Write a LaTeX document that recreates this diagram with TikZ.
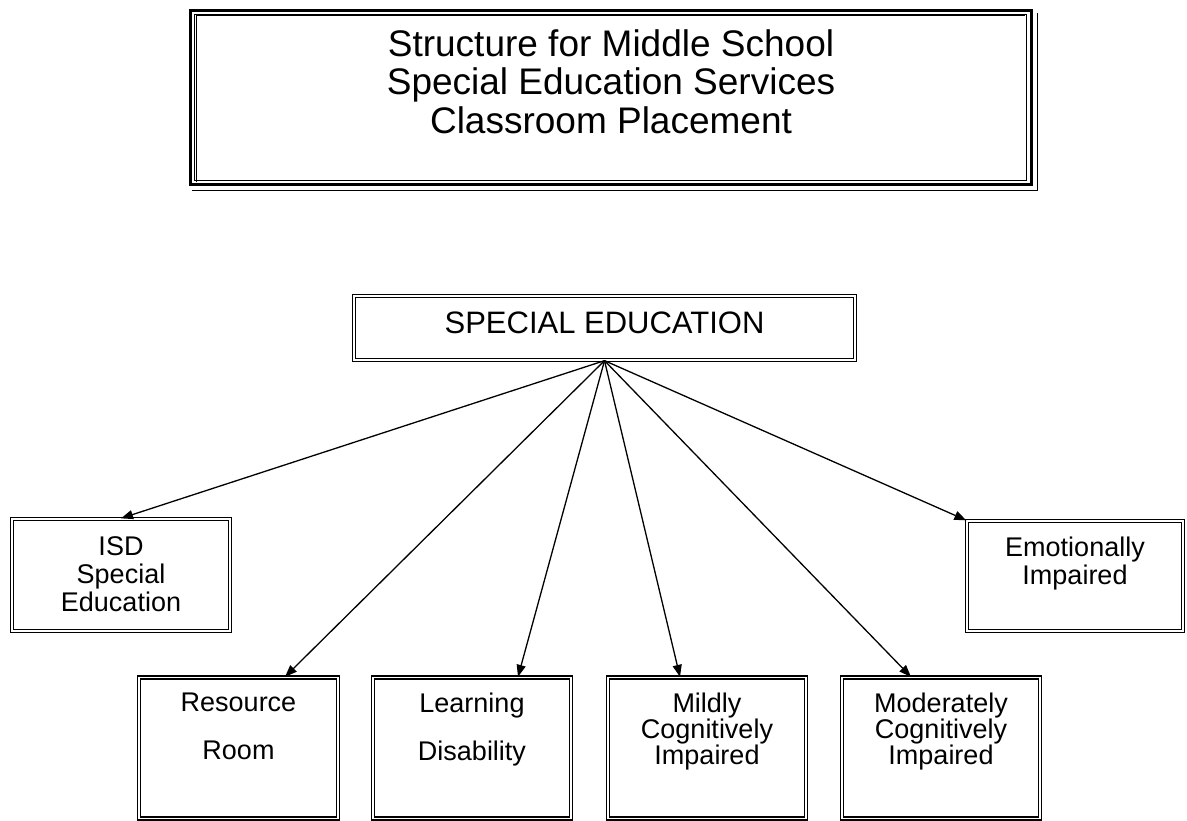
\documentclass[tikz,border=0pt]{standalone}
\usepackage{fontspec}
\setmainfont{Liberation Sans}
\usetikzlibrary{arrows.meta}
\begin{document}
\begin{tikzpicture}[x=1pt,y=-1pt,
  dbox/.style={draw, double, line width=1.3pt, double distance=1.7pt, inner sep=0pt},
  lbl/.style={inner sep=0pt, align=center, anchor=north, font=\fontsize{27}{26}\selectfont},
  conn/.style={line width=1.3pt, -{Triangle[length=12pt,width=9pt]}},
  thinline/.style={line width=1pt}]
\useasboundingbox (0,0) rectangle (1187,821);
% title box (triple border with shadow line)
\node[draw, line width=3pt, minimum width=841pt, minimum height=173.5pt, inner sep=0pt] (title) at (610.5,97.75) {};
\node[draw, thinline, minimum width=832.5pt, minimum height=166.5pt, inner sep=0pt] (titleb) at (title.center) {};
\coordinate (tc1) at ([xshift=7.5pt,yshift=3.5pt]title.south west);
\coordinate (tc2) at ([xshift=7.5pt,yshift=-6.5pt]title.north west);
\coordinate (tc3) at ([xshift=-7.5pt,yshift=-6.5pt]title.north east);
\draw[thinline] (tc1) -- (tc2) -- (tc3);
\coordinate (ts1) at ([xshift=4.5pt,yshift=-4pt]title.north east);
\coordinate (ts2) at ([xshift=4.5pt,yshift=-5pt]title.south east);
\coordinate (ts3) at ([xshift=3pt,yshift=-5pt]title.south west);
\draw[thinline] (ts1) -- (ts2) -- (ts3);
\node[inner sep=0pt, align=center, anchor=north, font=\fontsize{37}{38.5}\selectfont] (titletext) at (611,29)
  {Structure for Middle School\\Special Education Services\\Classroom Placement};
% special education
\node[dbox, minimum width=501pt, minimum height=64pt] (se) at (604.5,328) {};
\node[inner sep=0pt, anchor=north, font=\fontsize{31}{30}\selectfont] (setext) at (604.5,312) {SPECIAL EDUCATION};
% upper row
\node[dbox, minimum width=218pt, minimum height=112pt] (isd) at (121,575) {};
\node[lbl, font=\fontsize{27}{28}\selectfont] (isdtext) at (121,536) {ISD\\Special\\Education};
\node[dbox, minimum width=216pt, minimum height=110pt] (emo) at (1075,576) {};
\node[lbl, font=\fontsize{27}{28}\selectfont] (emotext) at (1075,537) {Emotionally\\Impaired};
% lower row
\node[dbox, minimum width=199pt, minimum height=141pt] (res) at (238.5,748) {};
\node[lbl] (restext) at (238.5,693) {Resource\\[22pt]Room};
\node[dbox, minimum width=198pt, minimum height=141pt] (lea) at (472,748) {};
\node[lbl] (leatext) at (472,693) {Learning\\[22pt]Disability};
\node[dbox, minimum width=198pt, minimum height=141pt] (mil) at (707,748) {};
\node[lbl] (miltext) at (707,693) {Mildly\\Cognitively\\Impaired};
\node[dbox, minimum width=198pt, minimum height=141pt] (mod) at (941,748) {};
\node[lbl] (modtext) at (941,693) {Moderately\\Cognitively\\Impaired};
% connectors
\draw[conn] (se.south) -- (isd.north);
\draw[conn] (se.south) -- ([xshift=46.5pt]res.north);
\draw[conn] (se.south) -- ([xshift=46pt]lea.north);
\draw[conn] (se.south) -- ([xshift=-27pt]mil.north);
\draw[conn] (se.south) -- ([xshift=-30pt]mod.north);
\draw[conn] (se.south) -- (emo.north west);
\end{tikzpicture}
\end{document}
